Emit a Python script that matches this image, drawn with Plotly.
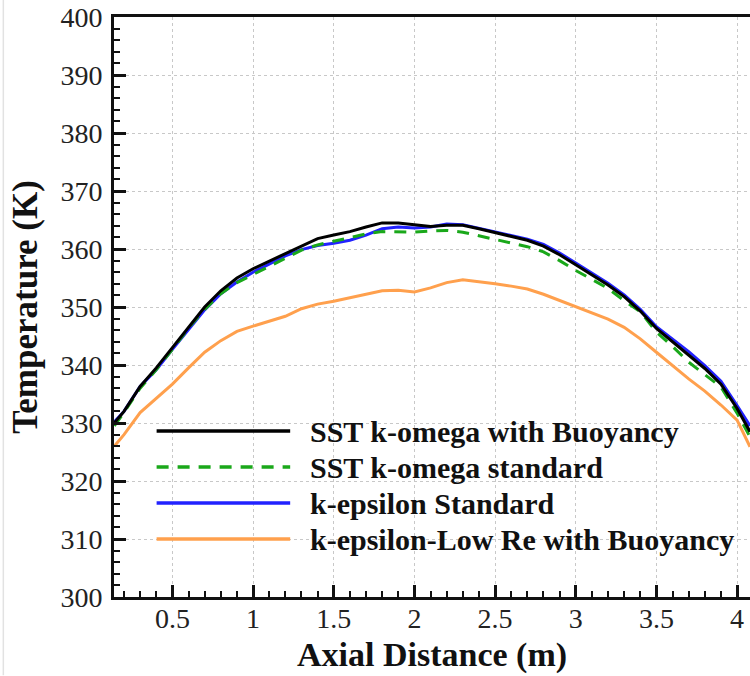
import plotly.graph_objects as go

# Axial positions (m)
axial_distance = [0.14, 0.2, 0.3, 0.4, 0.5, 0.6, 0.7, 0.8, 0.9, 1.0,
                  1.1, 1.2, 1.3, 1.4, 1.5, 1.6, 1.7, 1.8, 1.9, 2.0,
                  2.1, 2.2, 2.3, 2.4, 2.5, 2.6, 2.7, 2.8, 2.9, 3.0,
                  3.1, 3.2, 3.3, 3.4, 3.5, 3.6, 3.7, 3.8, 3.9, 4.0, 4.08]

# Temperature profiles (K) for each turbulence model
sst_buoyancy = [330.0, 332.0, 336.3, 339.5, 343.0, 346.6, 350.0, 352.8, 355.0, 356.6,
                357.9, 359.2, 360.6, 361.8, 362.4, 363.0, 363.8, 364.5, 364.5, 364.2,
                363.9, 364.1, 364.1, 363.5, 362.8, 362.1, 361.5, 360.5, 359.0, 357.3,
                355.6, 353.8, 351.8, 349.3, 346.3, 344.0, 341.8, 339.4, 336.7, 332.5, 328.5]

sst_standard = [329.5, 331.8, 336.0, 339.2, 342.7, 346.4, 349.6, 352.3, 354.2, 355.6,
                357.0, 358.3, 359.8, 360.7, 361.3, 361.9, 362.6, 363.0, 363.0, 362.9,
                363.1, 363.2, 362.9, 362.3, 361.6, 361.0, 360.4, 359.5, 358.0, 356.3,
                354.8, 353.2, 351.1, 349.2, 345.7, 343.2, 340.5, 338.3, 336.2, 331.7, 327.6]

ke_standard = [330.2, 332.0, 336.3, 339.2, 342.7, 346.2, 349.5, 352.3, 354.3, 356.0,
               357.4, 358.8, 359.9, 360.6, 361.0, 361.5, 362.4, 363.5, 363.8, 363.6,
               363.8, 364.3, 364.2, 363.6, 362.9, 362.3, 361.7, 360.8, 359.3, 357.6,
               355.9, 354.1, 352.1, 349.6, 346.6, 344.5, 342.3, 339.9, 337.2, 333.0, 329.5]

ke_lowre_buoyancy = [326.0, 328.0, 331.8, 334.3, 336.7, 339.5, 342.2, 344.2, 345.8, 346.7,
                     347.5, 348.4, 349.7, 350.5, 351.0, 351.6, 352.3, 352.8, 352.9, 352.6,
                     353.3, 354.2, 354.7, 354.4, 354.0, 353.6, 353.1, 352.2, 351.1, 350.0,
                     349.0, 347.9, 346.5, 344.5, 342.2, 339.9, 337.6, 335.5, 333.1, 330.5, 325.9]

series_names = ["SST k-omega with Buoyancy", "SST k-omega standard",
                "k-epsilon Standard", "k-epsilon-Low Re with Buoyancy"]
series_values = [sst_buoyancy, sst_standard, ke_standard, ke_lowre_buoyancy]
series_colors = ["#000000", "#1aa81a", "#2222ff", "#ffa04d"]
series_dash = ["solid", "12px,9px", "solid", "solid"]

x_ticks = [0.5, 1, 1.5, 2, 2.5, 3, 3.5, 4]
y_ticks = [300, 310, 320, 330, 340, 350, 360, 370, 380, 390, 400]

SERIF = "Liberation Serif"
TICKFONT = dict(family="Times New Roman", size=28, color="#222222", weight="normal")

fig = go.Figure()
# Draw the orange profile first so the others sit on top
for idx in [3, 2, 1, 0]:
    fig.add_trace(go.Scatter(
        x=axial_distance, y=series_values[idx], mode="lines",
        name=series_names[idx], showlegend=False,
        line=dict(color=series_colors[idx], width=3, dash=series_dash[idx]),
    ))

# Hand-built legend: long line samples with bold labels
legend_rows_y = [0.286, 0.224, 0.162, 0.100]
shapes = []
annotations = []
for name, color, dash, yy in zip(series_names, series_colors, series_dash, legend_rows_y):
    shapes.append(dict(type="line", xref="paper", yref="paper",
                       x0=0.067, x1=0.277, y0=yy, y1=yy,
                       line=dict(color=color, width=3.5, dash=dash)))
    annotations.append(dict(xref="paper", yref="paper", x=0.305, y=yy,
                            xanchor="left", yanchor="middle", showarrow=False,
                            text="<b>%s</b>" % name,
                            font=dict(family=SERIF, size=30, color="#111111")))

# faint frame edge on the far left
shapes.append(dict(type="line", xref="paper", yref="paper",
                   x0=-0.174, x1=-0.174, y0=-0.135, y1=1.03,
                   line=dict(color="#e2e2e2", width=1.5)))

grid = dict(showgrid=True, gridcolor="#c8c8c8", gridwidth=1, griddash="dot")

fig.update_layout(
    width=750, height=676,
    margin=dict(l=114, r=0, t=17, b=79),
    paper_bgcolor="white", plot_bgcolor="white",
    font=dict(family=SERIF, color="#222222"),
    shapes=shapes, annotations=annotations,
    xaxis=dict(
        range=[0.138, 4.08], tickmode="array", tickvals=x_ticks,
        ticktext=[("%g" % v) for v in x_ticks],
        ticks="inside", ticklen=12, tickwidth=2.5, tickcolor="#111111",
        minor=dict(dtick=0.1, ticks="inside", ticklen=6, tickwidth=1.5,
                   tickcolor="#111111", showgrid=False),
        showline=True, linecolor="#111111", linewidth=3, mirror=True,
        zeroline=False, ticklabelstandoff=-6,
        tickfont=TICKFONT,
        title=dict(text="<b>Axial Distance (m)</b>", standoff=10,
                   font=dict(family=SERIF, size=34, color="#111111")),
        **grid,
    ),
    yaxis=dict(
        range=[300, 400], tickmode="array", tickvals=y_ticks,
        ticks="inside", ticklen=12, tickwidth=2.5, tickcolor="#111111",
        minor=dict(dtick=2, ticks="inside", ticklen=6, tickwidth=1.5,
                   tickcolor="#111111", showgrid=False),
        showline=True, linecolor="#111111", linewidth=3, mirror=False,
        zeroline=False, ticklabelstandoff=3,
        tickfont=TICKFONT,
        title=dict(text="<b>Temperature (K)</b>", standoff=13,
                   font=dict(family=SERIF, size=35, color="#111111")),
        **grid,
    ),
)

fig.write_html("out.html")
